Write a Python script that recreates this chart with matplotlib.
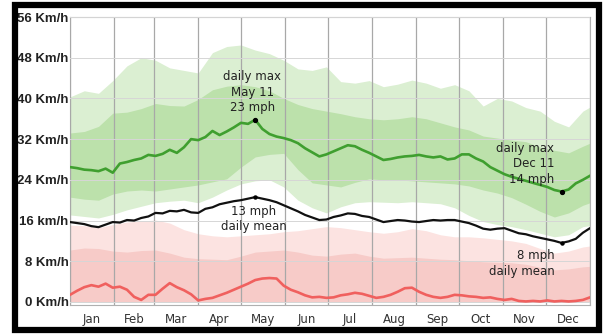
import numpy as np
import matplotlib
matplotlib.use('Agg')
import matplotlib.pyplot as plt
from matplotlib.patches import Rectangle

# =============================================================================
# Data (km/h)
# =============================================================================
months = ['Jan', 'Feb', 'Mar', 'Apr', 'May', 'Jun', 'Jul', 'Aug', 'Sep', 'Oct', 'Nov', 'Dec']
month_days = [31, 28, 31, 30, 31, 30, 31, 31, 30, 31, 30, 31]
y_labels = ['0 Km/h', '8 Km/h', '16 km/h', '24 Km/h', '32 Km/h', '40 Km/h', '48 Km/h', '56 Km/h']
y_ticks = [0, 8, 16, 24, 32, 40, 48, 56]

# lines, every 5 days
line_days = list(range(0, 365, 5)) + [365]
daily_max = [26.5, 26.3, 26.0, 25.9, 25.7, 26.2, 25.4, 27.2, 27.5, 27.9,
             28.2, 28.9, 28.7, 29.1, 29.9, 29.3, 30.4, 32.0, 31.8, 32.4,
             33.6, 32.8, 33.5, 34.3, 35.2, 35.0, 35.8, 34.0, 33.0, 32.5,
             32.2, 31.8, 31.2, 30.2, 29.4, 28.6, 29.0, 29.6, 30.2, 30.8,
             30.6, 29.9, 29.3, 28.6, 27.9, 28.1, 28.4, 28.6, 28.7, 28.9,
             28.6, 28.4, 28.6, 28.0, 28.2, 29.0, 29.0, 28.2, 27.6, 26.5,
             25.8, 25.1, 24.6, 24.2, 23.8, 23.4, 23.0, 22.6, 22.0, 21.7,
             22.1, 23.3, 24.0, 24.8]
daily_mean = [15.7, 15.5, 15.3, 14.9, 14.7, 15.2, 15.7, 15.6, 16.1, 16.0,
              16.5, 16.8, 17.5, 17.4, 17.9, 17.8, 18.1, 17.6, 17.5, 18.3,
              18.6, 19.2, 19.5, 19.8, 20.0, 20.3, 20.6, 20.3, 20.0, 19.6,
              19.0, 18.4, 17.8, 17.1, 16.6, 16.1, 16.2, 16.7, 17.0, 17.4,
              17.3, 16.9, 16.7, 16.2, 15.7, 15.9, 16.1, 16.0, 15.8, 15.7,
              15.9, 16.1, 16.0, 16.1, 16.1, 15.8, 15.5, 15.0, 14.4, 14.2,
              14.4, 14.5, 14.0, 13.5, 13.3, 12.9, 12.6, 12.3, 12.0, 11.6,
              11.9, 12.4, 13.6, 14.5]
daily_min = [1.4, 2.2, 2.9, 3.3, 3.0, 3.6, 2.8, 3.0, 2.4, 1.0,
             0.4, 1.4, 1.4, 2.6, 3.7, 2.9, 2.3, 1.5, 0.3, 0.6,
             0.8, 1.3, 1.8, 2.4, 3.0, 3.6, 4.3, 4.6, 4.7, 4.6,
             3.2, 2.4, 1.9, 1.3, 0.9, 1.0, 0.8, 0.9, 1.3, 1.5,
             1.8, 1.6, 1.2, 0.8, 1.0, 1.4, 2.0, 2.7, 2.8, 2.0,
             1.4, 1.0, 0.8, 1.0, 1.4, 1.3, 1.1, 1.0, 0.8, 0.9,
             0.6, 0.4, 0.6, 0.2, 0.1, 0.2, 0.1, 0.3, 0.1, 0.2,
             0.1, 0.2, 0.4, 0.9]

# bands, every 10 days
band_days = list(range(0, 365, 10)) + [365]
green_outer_hi = [40.3, 41.5, 41.0, 43.5, 46.4, 48.0, 47.5, 46.0, 45.5, 45.0,
                  49.0, 50.2, 50.5, 49.5, 48.8, 47.5, 45.8, 45.5, 46.2, 43.3,
                  43.0, 43.5, 42.3, 42.8, 43.6, 43.0, 42.0, 42.7, 41.5, 38.5,
                  40.0, 39.5, 38.2, 37.5, 35.5, 34.4, 37.5, 38.3]
green_inner_hi = [33.2, 33.5, 34.5, 37.1, 37.3, 38.0, 39.0, 38.6, 38.5, 39.8,
                  41.7, 42.4, 42.7, 42.3, 41.5, 40.0, 38.8, 38.0, 37.5, 37.0,
                  36.4, 36.0, 35.8, 36.0, 36.4, 36.0, 35.2, 34.4, 33.8, 32.6,
                  32.2, 31.8, 31.5, 30.4, 29.8, 29.3, 30.6, 31.2]
green_inner_lo = [20.6, 20.2, 20.0, 21.2, 21.8, 22.0, 21.8, 22.2, 22.6, 23.0,
                  23.6, 24.2, 26.5, 28.5, 29.0, 29.2, 26.0, 23.4, 23.0, 22.6,
                  23.5, 24.2, 24.0, 24.0, 23.8, 23.6, 23.4, 23.2, 22.8, 22.0,
                  21.4, 20.5, 19.2, 17.8, 16.7, 17.5, 19.0, 19.5]
green_outer_lo = [17.1, 16.8, 16.5, 17.2, 18.1, 18.8, 19.5, 19.8, 20.0, 19.5,
                  20.6, 22.0, 23.2, 23.8, 24.0, 22.6, 20.0, 18.5, 17.5, 18.7,
                  19.5, 19.7, 19.6, 19.5, 19.7, 19.5, 19.3, 18.5, 17.0, 15.8,
                  15.2, 14.8, 14.2, 13.5, 12.8, 13.2, 14.8, 15.0]
pink_outer_hi = [15.1, 15.0, 14.6, 15.2, 15.7, 15.9, 16.1, 15.5, 14.2, 13.4,
                 13.0, 12.8, 13.0, 13.2, 13.4, 13.8, 14.0, 14.4, 14.8, 14.6,
                 14.2, 13.8, 13.5, 13.8, 14.4, 14.0, 13.2, 12.8, 12.8, 12.6,
                 12.3, 12.0, 11.5, 10.5, 9.6, 10.0, 10.8, 11.0]
pink_inner_hi = [10.2, 10.6, 10.5, 10.0, 9.8, 10.1, 10.2, 9.6, 8.8, 8.5,
                 8.4, 8.3, 9.0, 9.8, 10.0, 10.2, 9.8, 9.2, 9.0, 9.4,
                 9.6, 9.0, 8.6, 8.7, 8.8, 8.6, 8.4, 8.3, 8.1, 7.9,
                 7.8, 7.7, 7.4, 6.8, 6.3, 6.5, 6.9, 7.0]

# =============================================================================
# Plotting figure
# =============================================================================
fig = plt.figure(figsize=(6.05, 3.34), dpi=100)
ax = fig.add_axes([70 / 605, 1 - 305 / 334, 520 / 605, 288 / 334])

ax.fill_between(band_days, green_outer_lo, green_outer_hi, color='#dbefd2', lw=0, zorder=1)
ax.fill_between(band_days, green_inner_lo, green_inner_hi, color='#bce1ab', lw=0, zorder=1.1)
ax.fill_between(band_days, 0, pink_outer_hi, color='#fce3e1', lw=0, zorder=1)
ax.fill_between(band_days, 0, pink_inner_hi, color='#f7cbc8', lw=0, zorder=1.1)

ax.plot(line_days, daily_max, color='#3f9f2f', lw=1.9, zorder=3)
ax.plot(line_days, daily_mean, color='#111111', lw=1.6, zorder=3)
ax.plot(line_days, daily_min, color='#f0605e', lw=1.9, zorder=3)

# markers at the annotated days
i_max = int(np.argmax(daily_max))
i_low = int(np.argmin(daily_max))
ax.plot([line_days[i_max], line_days[i_low]], [daily_max[i_max], daily_max[i_low]],
        'o', color='black', ms=2.8, zorder=4)
j_max = int(np.argmax(daily_mean))
j_low = int(np.argmin(daily_mean))
ax.plot([line_days[j_max], line_days[j_low]], [daily_mean[j_max], daily_mean[j_low]],
        'o', color='black', ms=2.2, zorder=4)

tfont = dict(fontsize=8.5, color='#222222', family='DejaVu Sans', zorder=5, linespacing=1.25)
ax.text(128, 41.2, 'daily max\nMay 11\n23 mph', ha='center', va='center', **tfont)
ax.text(129, 16.3, '13 mph\ndaily mean', ha='center', va='center', **tfont)
ax.text(340, 27.2, 'daily max\nDec 11\n14 mph', ha='right', va='center', multialignment='right', **tfont)
ax.text(340, 7.6, '8 mph\ndaily mean', ha='right', va='center', multialignment='right', **tfont)

# axes and grid
bounds = np.concatenate([[0], np.cumsum(month_days)])
mids = (bounds[:-1] + bounds[1:]) / 2
ax.set_xlim(0, 365)
ax.set_ylim(-0.6, 56)
ax.set_xticks(bounds)
ax.set_xticklabels([])
ax.set_xticks(mids, minor=True)
ax.set_xticklabels(months, minor=True, fontsize=8.5, color='#333333')
ax.set_yticks(y_ticks)
ax.set_yticklabels(y_labels, fontsize=9.5, fontweight='bold', family='Liberation Sans', color='#222222')
ax.tick_params(which='both', length=0)
ax.tick_params(axis='x', which='minor', pad=6)
ax.tick_params(axis='y', pad=1)
ax.set_axisbelow(False)
ax.grid(axis='x', which='major', color='#a8a8a8', lw=0.9, zorder=2)
ax.grid(axis='y', which='major', color='#d6d6d6', lw=0.7, zorder=2)
for s in ax.spines.values():
    s.set_color('#b0b0b0')
    s.set_linewidth(0.8)

# thick black frame around the whole picture
fig.patches.append(Rectangle((15 / 605, 4 / 334), 584 / 605, 325 / 334, transform=fig.transFigure,
                             fill=False, edgecolor='black', lw=4.5, zorder=10))

fig.savefig('out.png', dpi=100)
